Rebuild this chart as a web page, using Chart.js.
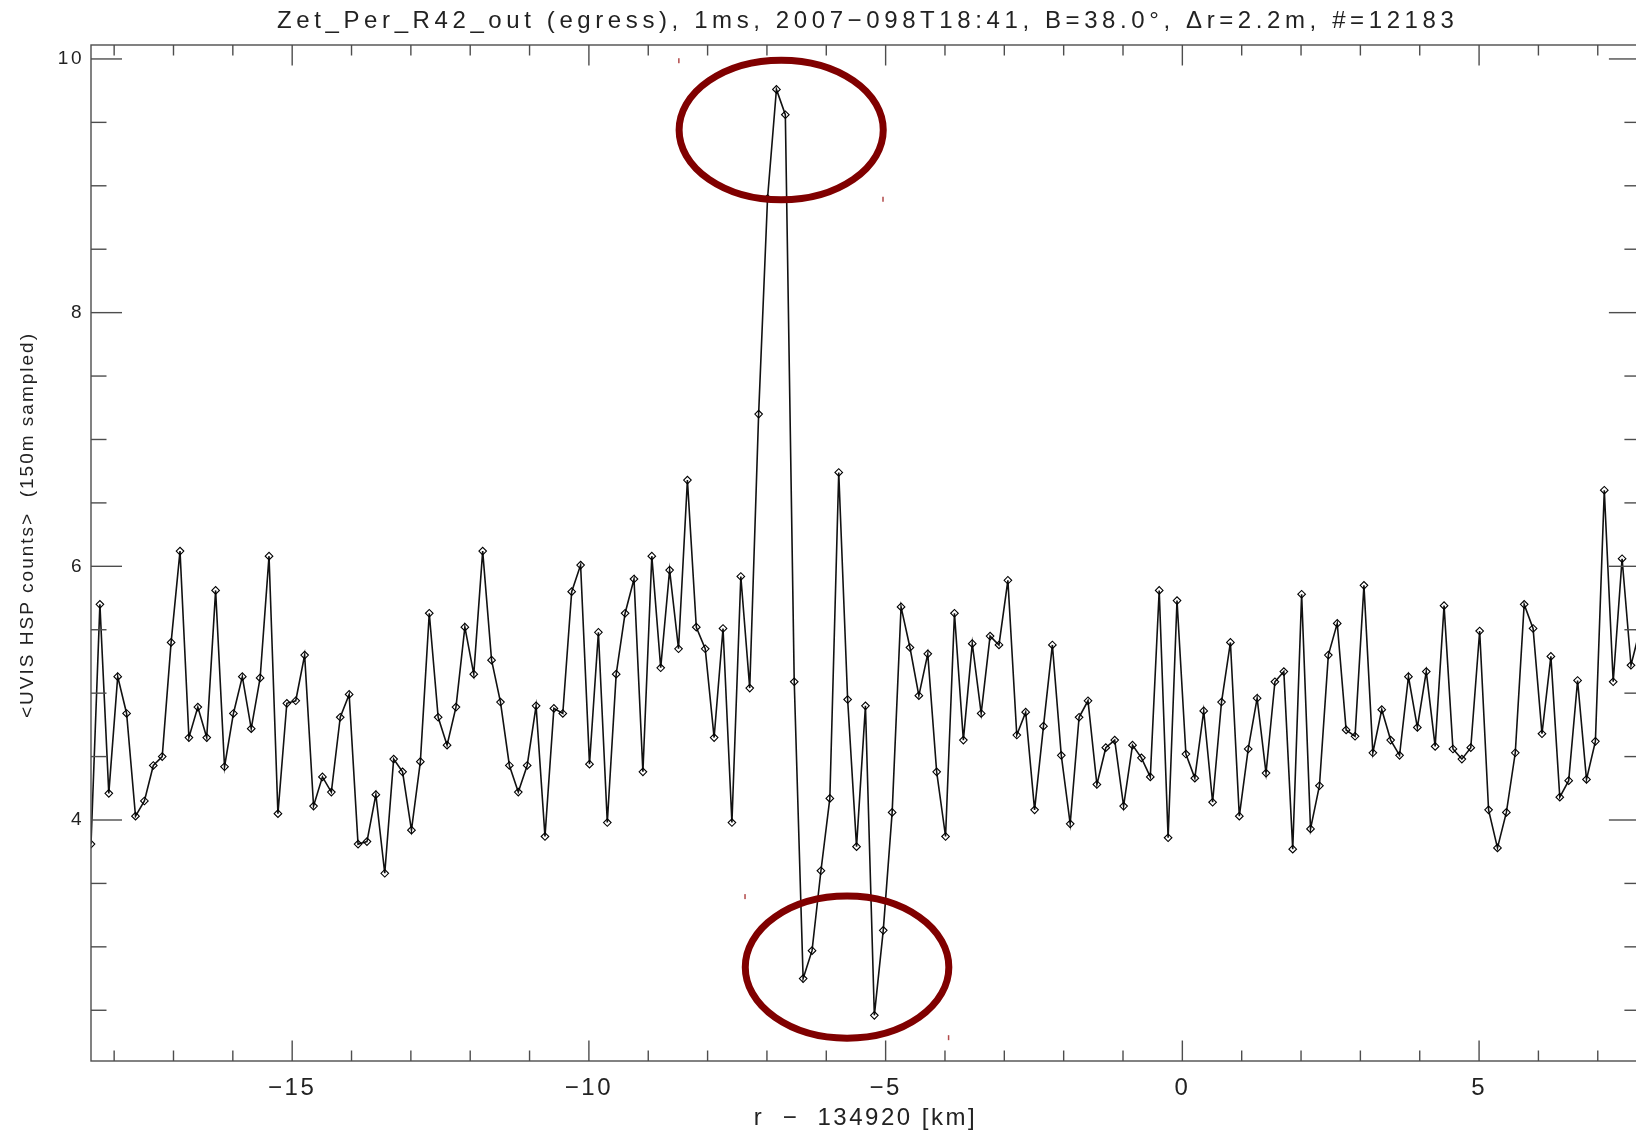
<!DOCTYPE html>
<html>
<head>
<meta charset="utf-8">
<title>Zet_Per_R42_out (egress)</title>
<script src="https://cdn.jsdelivr.net/npm/chart.js@4.4.0/dist/chart.umd.min.js"></script>
<style>
  html, body { margin: 0; padding: 0; background: #fff; overflow: hidden; }
  #wrap { width: 1645px; height: 1133px; }
</style>
</head>
<body>
<div id="wrap"><canvas id="occChart" width="1645" height="1133"></canvas></div>
<script>
// ---------- DATA ----------
const chartTitle = 'Zet_Per_R42_out (egress), 1ms, 2007\u2212098T18:41, B=38.0\u00b0, \u0394r=2.2m, #=12183';
const xAxisTitle = 'r  \u2212  134920 [km]';
const yAxisTitle = '<UVIS HSP counts>  (150m sampled)';

// radius offset of each 150 m sample [km]
const radiusKm = [
  -18.39,-18.24,-18.09,-17.94,-17.79,-17.64,-17.49,-17.34,-17.19,-17.04,
  -16.89,-16.74,-16.59,-16.44,-16.29,-16.14,-15.99,-15.84,-15.69,-15.54,
  -15.39,-15.24,-15.09,-14.94,-14.79,-14.64,-14.49,-14.34,-14.19,-14.04,
  -13.89,-13.74,-13.59,-13.44,-13.29,-13.14,-12.99,-12.84,-12.69,-12.54,
  -12.39,-12.24,-12.09,-11.94,-11.79,-11.64,-11.49,-11.34,-11.19,-11.04,
  -10.89,-10.74,-10.59,-10.44,-10.29,-10.14,-9.99,-9.84,-9.69,-9.54,
  -9.39,-9.24,-9.09,-8.94,-8.79,-8.64,-8.49,-8.34,-8.19,-8.04,
  -7.89,-7.74,-7.59,-7.44,-7.29,-7.14,-6.99,-6.84,-6.69,-6.54,
  -6.39,-6.24,-6.09,-5.94,-5.79,-5.64,-5.49,-5.34,-5.19,-5.04,
  -4.89,-4.74,-4.59,-4.44,-4.29,-4.14,-3.99,-3.84,-3.69,-3.54,
  -3.39,-3.24,-3.09,-2.94,-2.79,-2.64,-2.49,-2.34,-2.19,-2.04,
  -1.89,-1.74,-1.59,-1.44,-1.29,-1.14,-0.99,-0.84,-0.69,-0.54,
  -0.39,-0.24,-0.09,0.06,0.21,0.36,0.51,0.66,0.81,0.96,
  1.11,1.26,1.41,1.56,1.71,1.86,2.01,2.16,2.31,2.46,
  2.61,2.76,2.91,3.06,3.21,3.36,3.51,3.66,3.81,3.96,
  4.11,4.26,4.41,4.56,4.71,4.86,5.01,5.16,5.31,5.46,
  5.61,5.76,5.91,6.06,6.21,6.36,6.51,6.66,6.81,6.96,
  7.11,7.26,7.41,7.56,7.71
];

// mean HSP counts per sample
const hspCounts = [
  3.81,5.70,4.21,5.13,4.84,4.03,4.15,4.43,4.50,5.40,
  6.12,4.65,4.89,4.65,5.81,4.42,4.84,5.13,4.72,5.12,
  6.08,4.05,4.92,4.94,5.30,4.11,4.34,4.22,4.81,4.99,
  3.81,3.83,4.20,3.58,4.48,4.38,3.92,4.46,5.63,4.81,
  4.59,4.89,5.52,5.15,6.12,5.26,4.93,4.43,4.22,4.43,
  4.90,3.87,4.88,4.84,5.80,6.01,4.44,5.48,3.98,5.15,
  5.63,5.90,4.38,6.08,5.20,5.97,5.35,6.68,5.52,5.35,
  4.65,5.51,3.98,5.92,5.04,7.20,8.90,9.76,9.56,5.09,
  2.75,2.97,3.60,4.17,6.74,4.95,3.79,4.90,2.46,3.13,
  4.06,5.68,5.36,4.98,5.31,4.38,3.87,5.63,4.63,5.39,
  4.84,5.45,5.38,5.89,4.67,4.85,4.08,4.74,5.38,4.51,
  3.97,4.81,4.94,4.28,4.57,4.63,4.11,4.59,4.49,4.34,
  5.81,3.86,5.73,4.52,4.33,4.86,4.14,4.93,5.40,4.03,
  4.56,4.96,4.37,5.09,5.17,3.77,5.78,3.93,4.27,5.30,
  5.55,4.71,4.66,5.85,4.53,4.87,4.63,4.51,5.13,4.73,
  5.17,4.58,5.69,4.56,4.48,4.57,5.49,4.08,3.78,4.06,
  4.53,5.70,5.51,4.68,5.29,4.18,4.31,5.10,4.32,4.62,
  6.60,5.09,6.06,5.22,5.50
];

const xRange = [-18.39, 7.71];
const yRange = [2.1, 10.11];
const xMajorTicks = [-15, -10, -5, 0, 5];
const xMinorTicks = [-18, -17, -16, -14, -13, -12, -11, -9, -8, -7, -6, -4, -3, -2, -1, 1, 2, 3, 4, 6, 7];
const yMajorTicks = [4, 6, 8, 10];
const yMinorTicks = [2.5, 3, 3.5, 4.5, 5, 5.5, 6.5, 7, 7.5, 8.5, 9, 9.5];

// hand-drawn red rings around the features (centre and half-axes in data units)
const ringR = [-6.76, -5.65];
const ringCounts = [9.44, 2.84];
const ringHalfR = [1.72, 1.715];
const ringHalfCounts = [0.55, 0.56];

// ---------- PLUGINS ----------
const FONT = '"Liberation Sans", Arial, sans-serif';

// IDL-style box with inward ticks on all four sides
const idlFrame = {
  id: 'idlFrame',
  beforeLayout(chart) { chart.ctx.letterSpacing = '2.5px'; },
  beforeDraw(chart) { chart.ctx.letterSpacing = '2.5px'; },
  afterDatasetsDraw(chart) {
    const { ctx, chartArea: a, scales: { x, y } } = chart;
    ctx.save();
    ctx.strokeStyle = '#4d4d4d';
    ctx.lineWidth = 1.4;
    ctx.strokeRect(a.left, a.top, a.right - a.left, a.bottom - a.top);
    const seg = (x1, y1, x2, y2) => { ctx.beginPath(); ctx.moveTo(x1, y1); ctx.lineTo(x2, y2); ctx.stroke(); };
    const xTick = (v, len) => {
      const px = x.getPixelForValue(v);
      seg(px, a.bottom, px, a.bottom - len);
      seg(px, a.top, px, a.top + len);
    };
    const yTick = (v, len) => {
      const py = y.getPixelForValue(v);
      seg(a.left, py, a.left + len, py);
      seg(a.right, py, a.right - len, py);
    };
    xMajorTicks.forEach(v => xTick(v, 20.5));
    xMinorTicks.forEach(v => xTick(v, 10.5));
    yMajorTicks.forEach(v => yTick(v, 31));
    yMinorTicks.forEach(v => yTick(v, 15.5));
    ctx.restore();
  }
};

const redRings = {
  id: 'redRings',
  afterDraw(chart) {
    const { ctx, scales: { x, y } } = chart;
    ctx.save();
    ringR.forEach((r, i) => {
      const cx = x.getPixelForValue(r);
      const cy = y.getPixelForValue(ringCounts[i]);
      const rx = Math.abs(x.getPixelForValue(r + ringHalfR[i]) - cx);
      const ry = Math.abs(y.getPixelForValue(ringCounts[i] + ringHalfCounts[i]) - cy);
      ctx.beginPath();
      ctx.ellipse(cx, cy, rx, ry, 0, 0, Math.PI * 2);
      ctx.strokeStyle = '#800000';
      ctx.lineWidth = 7;
      ctx.stroke();
      // little selection marks at the box corners
      ctx.fillStyle = '#b24a4a';
      ctx.fillRect(cx - rx - 1, cy - ry - 2, 1.5, 5);
      ctx.fillRect(cx + rx - 1, cy + ry - 3, 1.5, 5);
    });
    ctx.restore();
  }
};

// plot title and the rotated y label, placed like the IDL output
const plotTexts = {
  id: 'plotTexts',
  afterDraw(chart) {
    const { ctx, chartArea: a } = chart;
    ctx.save();
    ctx.fillStyle = '#222';
    ctx.textAlign = 'center';
    ctx.textBaseline = 'middle';
    ctx.letterSpacing = '4.6px';
    ctx.font = '24px ' + FONT;
    ctx.fillText(chartTitle, (a.left + a.right) / 2 + 2.3, 21);

    ctx.letterSpacing = '2px';
    ctx.font = '19px ' + FONT;
    ctx.translate(28, (a.top + a.bottom) / 2 - 27);
    ctx.rotate(-Math.PI / 2);
    ctx.fillText(yAxisTitle, 1, 0);
    ctx.restore();
  }
};

// ---------- CHART ----------
const ctx = document.getElementById('occChart').getContext('2d');
new Chart(ctx, {
  type: 'scatter',
  data: {
    datasets: [{
      data: radiusKm.map((r, i) => ({ x: r, y: hspCounts[i] })),
      showLine: true,
      borderColor: '#111',
      borderWidth: 1.6,
      tension: 0,
      pointStyle: 'rectRot',
      pointRadius: 3.8,
      pointBorderWidth: 1.1,
      pointBorderColor: '#000',
      pointBackgroundColor: 'rgba(0,0,0,0)'
    }]
  },
  options: {
    responsive: false,
    animation: false,
    devicePixelRatio: 1,
    layout: { padding: { top: 45, right: 5, left: 0, bottom: 0 } },
    plugins: {
      legend: { display: false },
      tooltip: { enabled: false },
      title: { display: false }
    },
    scales: {
      x: {
        type: 'linear',
        min: xRange[0],
        max: xRange[1],
        afterFit(s) { s.height = 72; },
        afterBuildTicks(s) { s.ticks = xMajorTicks.map(v => ({ value: v })); },
        grid: { display: false, drawTicks: false },
        border: { display: false },
        ticks: {
          autoSkip: false,
          maxRotation: 0,
          padding: 13,
          color: '#222',
          font: { family: FONT, size: 24 },
          callback: v => String(v).replace('-', '\u2212')
        },
        title: {
          display: true,
          text: xAxisTitle,
          color: '#222',
          font: { family: FONT, size: 24 },
          padding: { top: 0, bottom: 0 }
        }
      },
      y: {
        type: 'linear',
        min: yRange[0],
        max: yRange[1],
        afterFit(s) { s.width = 91; },
        afterBuildTicks(s) { s.ticks = yMajorTicks.map(v => ({ value: v })); },
        grid: { display: false, drawTicks: false },
        border: { display: false },
        ticks: {
          autoSkip: false,
          padding: 7,
          color: '#222',
          font: { family: FONT, size: 19 }
        }
      }
    }
  },
  plugins: [idlFrame, redRings, plotTexts]
});
</script>
</body>
</html>
